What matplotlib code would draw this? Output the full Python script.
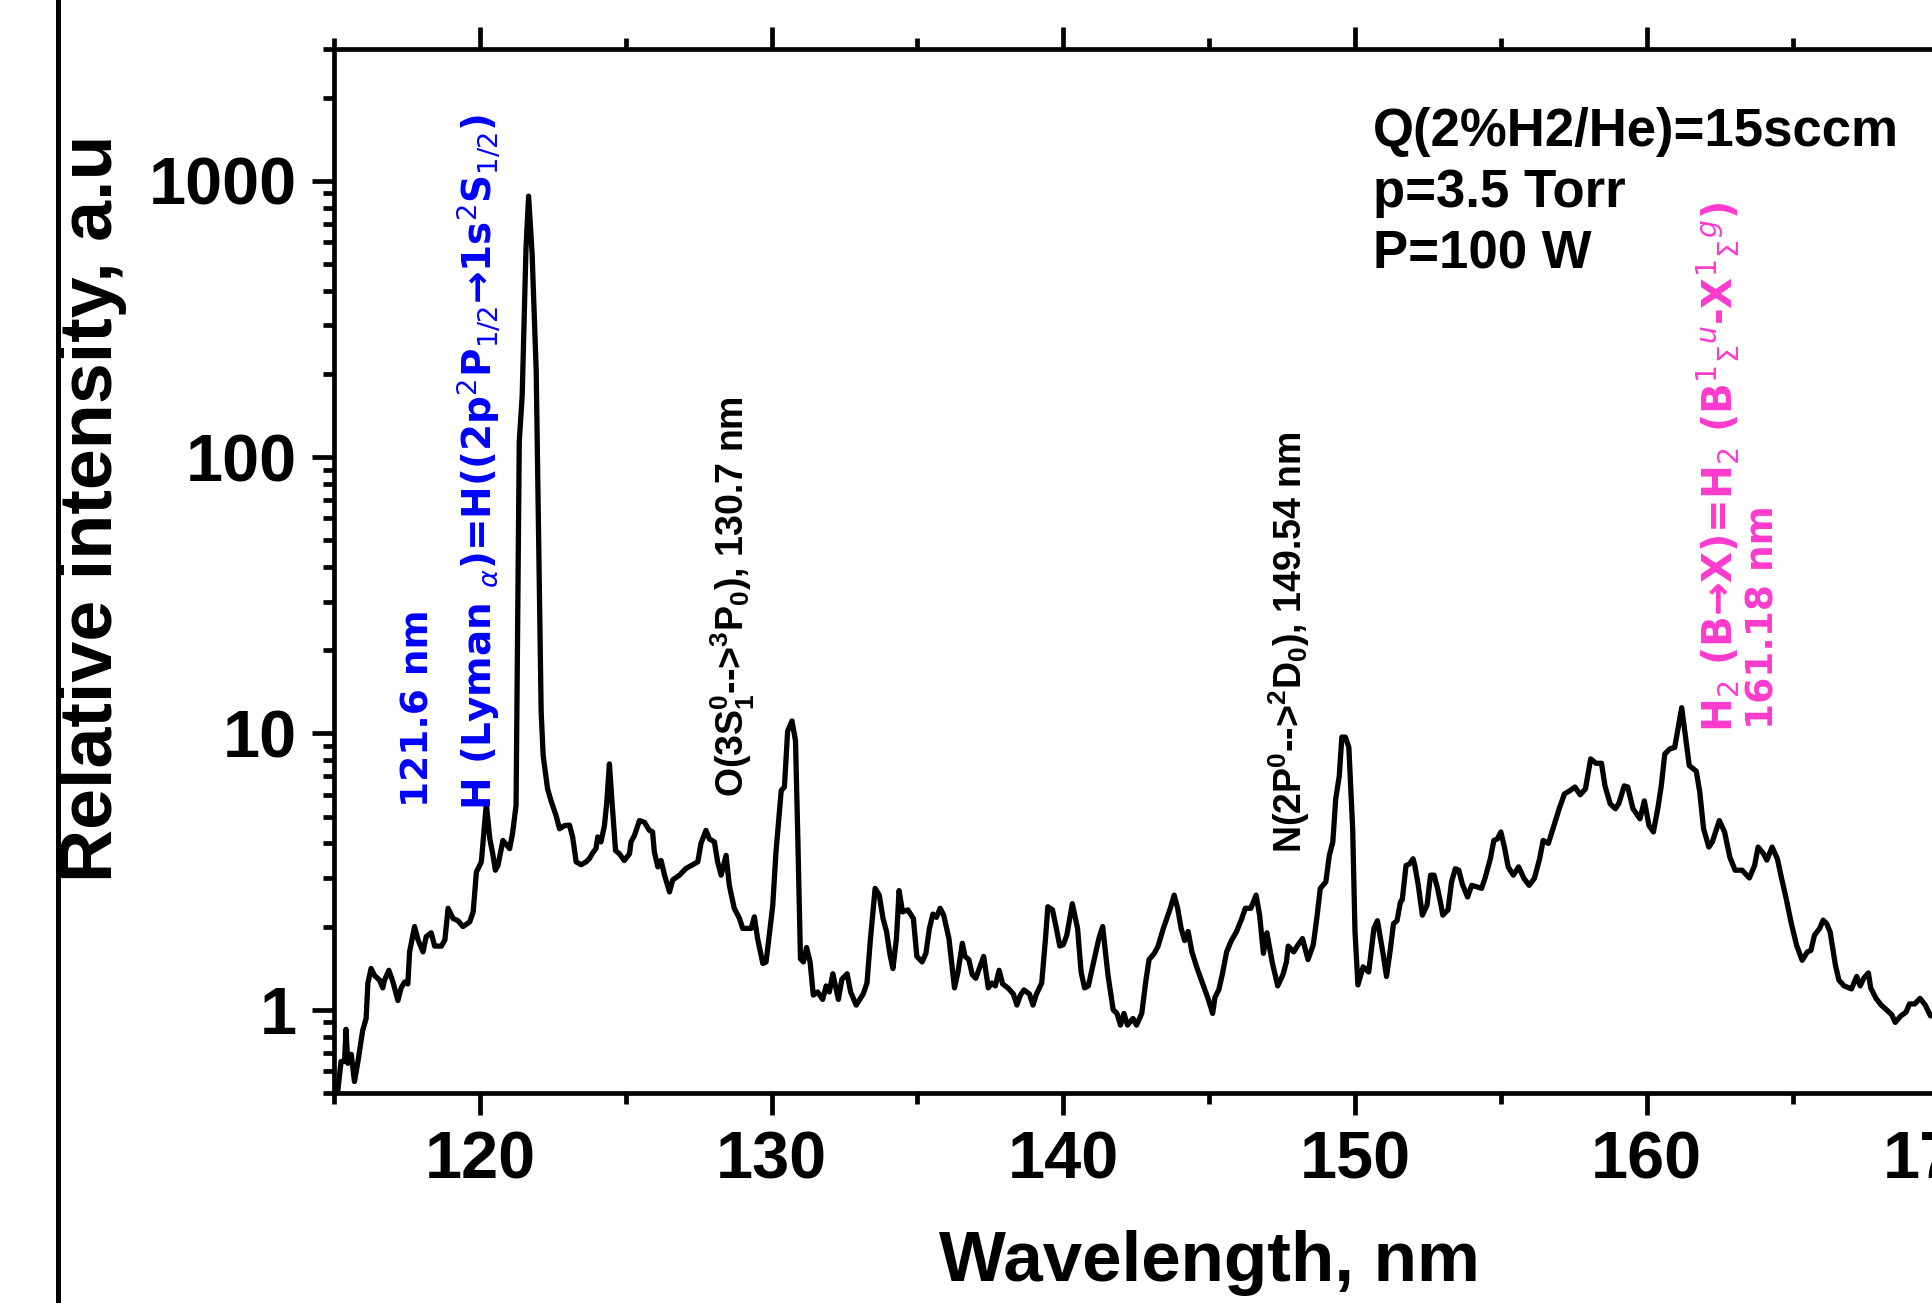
import numpy as np
import matplotlib
matplotlib.use('Agg')
import matplotlib.pyplot as plt
from matplotlib.ticker import MultipleLocator, LogLocator, NullFormatter
from matplotlib.lines import Line2D

plt.rcParams['font.family'] = ['Liberation Sans', 'DejaVu Sans']
plt.rcParams['mathtext.fontset'] = 'custom'
plt.rcParams['mathtext.rm'] = 'Liberation Sans:bold'
plt.rcParams['mathtext.it'] = 'Liberation Sans:italic:bold'
plt.rcParams['mathtext.bf'] = 'Liberation Sans:bold'

# spectrum (wavelength nm, relative intensity)
wl = [115.0, 115.13, 115.24, 115.36, 115.41, 115.47, 115.59, 115.7, 115.82, 115.98,
      116.1, 116.16, 116.27, 116.39, 116.56, 116.67, 116.73, 116.88, 117.02, 117.19,
      117.3, 117.42, 117.53, 117.59, 117.76, 117.88, 118.05, 118.16, 118.33, 118.45,
      118.68, 118.8, 118.91, 119.08, 119.25, 119.42, 119.65, 119.77, 119.88, 120.05,
      120.22, 120.34, 120.45, 120.53, 120.62, 120.79, 121.02, 121.12, 121.24,
      121.3, 121.35, 121.45, 121.58, 121.67, 121.79, 121.93, 122.04, 122.1, 122.17,
      122.32, 122.44, 122.61, 122.73, 122.9, 123.07, 123.18, 123.3, 123.47, 123.64,
      123.75, 123.87, 123.98, 124.04, 124.15, 124.27, 124.35, 124.44, 124.53, 124.65,
      124.78, 124.95, 125.13, 125.18, 125.3, 125.47, 125.64, 125.81, 125.92, 125.98,
      126.1, 126.21, 126.33, 126.5, 126.61, 126.84, 127.07, 127.3, 127.47, 127.58,
      127.75, 127.87, 128.04, 128.15, 128.27, 128.44, 128.55, 128.72, 128.9, 129.01,
      129.18, 129.3, 129.41, 129.52, 129.7, 129.81, 129.92, 130.04, 130.15, 130.33,
      130.44, 130.55, 130.7, 130.82, 130.9, 130.99, 131.09, 131.2, 131.32, 131.43,
      131.58, 131.75, 131.87, 131.98, 132.1, 132.29, 132.41, 132.59, 132.71, 132.9,
      133.14, 133.27, 133.39, 133.55, 133.69, 133.82, 133.94, 134.06, 134.16, 134.28,
      134.37, 134.49, 134.67, 134.86, 134.98, 135.16, 135.29, 135.41, 135.53, 135.65,
      135.78, 135.9, 136.08, 136.27, 136.39, 136.54, 136.63, 136.76, 136.88, 137.0,
      137.12, 137.27, 137.43, 137.55, 137.67, 137.8, 137.92, 138.1, 138.29, 138.41,
      138.53, 138.65, 138.84, 138.96, 139.08, 139.26, 139.39, 139.47, 139.63, 139.75,
      139.88, 140.0, 140.12, 140.31, 140.49, 140.61, 140.73, 140.86, 141.04, 141.22,
      141.35, 141.53, 141.71, 141.84, 141.96, 142.08, 142.2, 142.39, 142.51, 142.69,
      142.82, 142.94, 143.12, 143.25, 143.43, 143.55, 143.67, 143.8, 143.92, 144.04,
      144.16, 144.28, 144.41, 144.59, 144.77, 144.96, 145.12, 145.2, 145.33, 145.45,
      145.6, 145.75, 145.94, 146.12, 146.24, 146.43, 146.61, 146.73, 146.86, 146.98,
      147.16, 147.35, 147.53, 147.65, 147.71, 147.9, 148.02, 148.2, 148.39, 148.57,
      148.69, 148.81, 149.0, 149.12, 149.24, 149.34, 149.46, 149.55, 149.67, 149.79,
      149.92, 150.0, 150.1, 150.28, 150.47, 150.65, 150.77, 150.96, 151.08, 151.2,
      151.32, 151.44, 151.56, 151.62, 151.75, 151.87, 151.99, 152.05, 152.17, 152.31,
      152.47, 152.59, 152.71, 152.83, 152.95, 153.01, 153.19, 153.31, 153.44, 153.56,
      153.68, 153.86, 154.0, 154.16, 154.34, 154.46, 154.64, 154.76, 154.88, 155.0,
      155.13, 155.25, 155.43, 155.61, 155.79, 155.97, 156.15, 156.33, 156.45, 156.63,
      156.82, 157.0, 157.18, 157.36, 157.54, 157.72, 157.9, 158.08, 158.26, 158.45,
      158.57, 158.75, 158.93, 159.05, 159.23, 159.35, 159.53, 159.77, 159.92, 160.08,
      160.23, 160.38, 160.5, 160.62, 160.8, 160.96, 161.2, 161.34, 161.46, 161.7,
      161.82, 161.95, 162.13, 162.25, 162.49, 162.67, 162.85, 163.03, 163.27, 163.52,
      163.7, 163.82, 164.0, 164.12, 164.3, 164.48, 164.6, 164.78, 164.96, 165.14,
      165.33, 165.51, 165.63, 165.75, 165.93, 166.05, 166.17, 166.29, 166.47, 166.59,
      166.77, 167.02, 167.2, 167.32, 167.44, 167.6, 167.68, 167.86, 168.04, 168.22,
      168.4, 168.52, 168.71, 168.89, 169.01, 169.19, 169.37, 169.55, 169.73, 169.9]

inten = [0.5, 0.51, 0.65, 0.65, 0.85, 0.64, 0.69, 0.55, 0.65, 0.84,
         0.93, 1.25, 1.41, 1.33, 1.28, 1.2, 1.28, 1.39, 1.26, 1.08,
         1.2, 1.26, 1.24, 1.62, 2.0, 1.79, 1.62, 1.84, 1.9, 1.7,
         1.7, 1.79, 2.33, 2.14, 2.1, 2.0, 2.08, 2.26, 3.15, 3.43,
         5.56, 4.16, 3.62, 3.2, 3.33, 4.1, 3.83, 4.35, 5.5,
         28, 114, 167, 569, 880, 545, 206, 33, 12, 8.3,
         6.3, 5.7, 5.05, 4.52, 4.64, 4.66, 4.22, 3.43, 3.35, 3.43,
         3.52, 3.7, 3.83, 4.22, 4.05, 4.64, 5.64, 7.76, 5.64, 3.77,
         3.67, 3.47, 3.67, 4.05, 4.28, 4.84, 4.77, 4.46, 4.4, 3.73,
         3.29, 3.47, 3.07, 2.67, 2.95, 3.07, 3.25, 3.35, 3.43, 4.0,
         4.46, 4.15, 4.05, 3.43, 3.07, 3.62, 2.82, 2.33, 2.14, 1.97,
         1.97, 1.97, 2.17, 1.81, 1.47, 1.49, 1.86, 2.39, 3.72, 6.21,
         6.4, 10.2, 11.1, 9.4, 4.15, 1.53, 1.49, 1.68, 1.49, 1.13,
         1.16, 1.09, 1.22, 1.16, 1.35, 1.09, 1.29, 1.35, 1.16, 1.04,
         1.14, 1.25, 1.81, 2.75, 2.6, 2.14, 1.92, 1.58, 1.41, 1.81,
         2.7, 2.26, 2.3, 2.14, 1.56, 1.49, 1.6, 1.97, 2.22, 2.16,
         2.33, 2.2, 1.81, 1.2, 1.37, 1.74, 1.56, 1.52, 1.34, 1.3,
         1.41, 1.56, 1.2, 1.25, 1.22, 1.39, 1.24, 1.2, 1.14, 1.04,
         1.13, 1.18, 1.14, 1.04, 1.14, 1.25, 1.81, 2.36, 2.3, 2.0,
         1.7, 1.72, 1.86, 2.42, 1.97, 1.37, 1.2, 1.22, 1.49, 1.81,
         2.0, 1.34, 1.0, 0.97, 0.88, 0.97, 0.88, 0.93, 0.88, 0.97,
         1.25, 1.52, 1.6, 1.7, 1.97, 2.14, 2.33, 2.6, 2.33, 1.97,
         1.78, 1.92, 1.62, 1.41, 1.25, 1.1, 0.97, 1.11, 1.18, 1.34,
         1.62, 1.77, 1.92, 2.14, 2.33, 2.33, 2.6, 2.2, 1.6, 1.9,
         1.49, 1.22, 1.34, 1.49, 1.7, 1.62, 1.7, 1.81, 1.52, 1.72,
         2.14, 2.75, 2.9, 3.62, 4.05, 5.8, 7.0, 9.7, 9.7, 8.9,
         4.52, 1.92, 1.23, 1.43, 1.37, 1.97, 2.1, 1.6, 1.32, 1.62,
         2.05, 2.1, 2.46, 2.5, 3.33, 3.37, 3.52, 3.33, 2.82, 2.2,
         2.39, 3.07, 3.07, 2.75, 2.39, 2.2, 2.3, 2.9, 3.24, 3.2,
         2.85, 2.56, 2.82, 2.79, 2.75, 3.0, 3.52, 4.1, 4.15, 4.4,
         3.85, 3.29, 3.07, 3.29, 2.99, 2.82, 2.99, 3.52, 4.1, 4.0,
         4.64, 5.34, 6.04, 6.2, 6.4, 6.0, 6.3, 8.09, 7.8, 7.8,
         6.46, 5.56, 5.34, 5.6, 6.46, 6.4, 5.34, 4.91, 5.7, 4.64,
         4.4, 5.34, 6.46, 8.43, 8.8, 8.9, 12.4, 9.55, 7.65, 7.3,
         6.13, 4.52, 3.88, 4.05, 4.84, 4.4, 3.57, 3.2, 3.2, 3.0,
         3.33, 3.88, 3.68, 3.48, 3.88, 3.52, 3.07, 2.53, 2.05, 1.71,
         1.51, 1.62, 1.64, 1.86, 1.97, 2.11, 2.05, 1.91, 1.45, 1.28,
         1.22, 1.19, 1.32, 1.22, 1.3, 1.36, 1.2, 1.1, 1.04, 1.0,
         0.96, 0.9, 0.95, 0.98, 1.05, 1.05, 1.1, 1.04, 0.95, 0.98]

xticks = [120, 130, 140, 150, 160, 170]
yticks = [1, 10, 100, 1000]
ytick_labels = ['1', '10', '100', '1000']
conditions = ['Q(2%H2/He)=15sccm', 'p=3.5 Torr', 'P=100 W']

fig = plt.figure(figsize=(19.32, 13.03), dpi=100)
ax = fig.add_axes([0.1729, 0.1612, 0.9059, 0.8012])

ax.plot(wl, inten, color='black', lw=3.8)

ax.set_yscale('log')
ax.set_xlim(115, 175)
ax.set_ylim(0.5, 3000)
ax.set_xticks(xticks)
ax.xaxis.set_minor_locator(MultipleLocator(5))
ax.set_yticks(yticks, labels=ytick_labels)
ax.yaxis.set_minor_locator(LogLocator(base=10, subs=np.arange(2, 10)))
ax.yaxis.set_minor_formatter(NullFormatter())

for s in ax.spines.values():
    s.set_linewidth(3.4)
ax.tick_params(which='both', direction='out', top=True, right=False, width=3.4)
ax.tick_params(which='major', length=16, pad=11, labelsize=48)
ax.tick_params(which='minor', length=8)
for lab in ax.get_xticklabels() + ax.get_yticklabels():
    lab.set_fontweight('bold')

# axis titles
fig.text(0.048, 0.61, 'Relative intensity, a.u', rotation=90, ha='center',
         va='center', fontsize=53, fontweight='bold')
fig.text(0.626, 0.031, 'Wavelength, nm', ha='center', va='center',
         fontsize=51, fontweight='bold')

# edge of the neighbouring panel
fig.add_artist(Line2D([0.030, 0.030], [0, 1], transform=fig.transFigure,
                      color='black', lw=3.6))

# line labels
blue = '#0000FF'
pink = '#FF3ACD'
ax.text(117.9, 5.4, '121.6 nm', rotation=90, ha='center', va='bottom',
        color=blue, fontsize=27, fontweight='bold', family='DejaVu Sans')
ax.text(119.95, 5.3,
        r'H (Lyman $_{\alpha}$)=H((2p$^2$P$_{1/2}$→1s$^2$S$_{1/2}$)',
        rotation=90, ha='center', va='bottom', color=blue, fontsize=28,
        fontweight='bold', family='DejaVu Sans', math_fontfamily='dejavusans')
ax.text(128.66, 5.9, r'O(3S$_1^{0}$-->$^3$P$_0$), 130.7 nm', rotation=90,
        ha='center', va='bottom', color='black', fontsize=27,
        fontweight='bold')
ax.text(147.75, 3.7, r'N(2P$^0$-->$^2$D$_0$), 149.54 nm', rotation=90,
        ha='center', va='bottom', color='black', fontsize=27,
        fontweight='bold')
ax.text(162.45, 10.1,
        r'H$_2$ (B→X)=H$_2$ (B$^1$$_{\Sigma}$$^{u}$-X$^1$$_{\Sigma}$$^{g}$)',
        rotation=90, ha='center', va='bottom', color=pink, fontsize=29,
        fontweight='bold', family='DejaVu Sans', math_fontfamily='dejavusans')
ax.text(164.0, 10.4, '161.18 nm', rotation=90, ha='center', va='bottom',
        color=pink, fontsize=27, fontweight='bold', family='DejaVu Sans')

# conditions, one line each
for i, line in enumerate(conditions):
    ax.annotate(line, xy=(150.62, 1850), xytext=(0, -i * 44),
                textcoords='offset points', ha='left', va='top',
                fontsize=38, fontweight='bold')

fig.savefig('out.png', dpi=100)
